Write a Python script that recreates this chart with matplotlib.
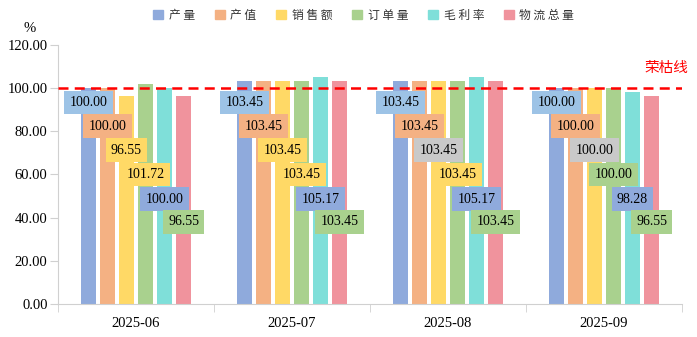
import numpy as np
import matplotlib
matplotlib.use("Agg")
from matplotlib import pyplot as plt
from matplotlib.patches import Patch

months = ["2025-06", "2025-07", "2025-08", "2025-09"]
series_names = ["产量", "产值", "销售额", "订单量", "毛利率", "物流总量"]
bar_colors = ["#8FAADC", "#F4B183", "#FFD966", "#A9D18E", "#7FDFD9", "#F0939D"]

# values per series (one list per series, one entry per month)
output_qty = [100.00, 103.45, 103.45, 100.00]
output_value = [100.00, 103.45, 103.45, 100.00]
sales = [96.55, 103.45, 103.45, 100.00]
orders = [101.72, 103.45, 103.45, 100.00]
gross_margin = [100.00, 105.17, 105.17, 98.28]
logistics = [96.55, 103.45, 103.45, 96.55]
values = [output_qty, output_value, sales, orders, gross_margin, logistics]

boom_line = 100
boom_label = "荣枯线"

# label box colours as they appear per month
label_colors = [
    ["#9DC3E6", "#F4B183", "#FFD966", "#FFD966", "#8FAADC", "#A9D18E"],
    ["#9DC3E6", "#F4B183", "#FFD966", "#FFD966", "#8FAADC", "#A9D18E"],
    ["#9DC3E6", "#F4B183", "#C9C9C9", "#FFD966", "#8FAADC", "#A9D18E"],
    ["#9DC3E6", "#F4B183", "#C9C9C9", "#A9D18E", "#8FAADC", "#A9D18E"],
]
label_levels = [93.4, 82.4, 71.3, 60.0, 48.6, 38.0]  # where the value boxes sit

serif = ["Liberation Serif", "DejaVu Serif"]
cjk = ["Noto Sans CJK SC", "DejaVu Sans"]

fig = plt.figure(figsize=(6.97, 3.37), dpi=100)
ax = fig.add_axes([0.0832, 0.0979, 0.8953, 0.7686])

x = np.arange(len(months))
width = 0.096
step = 0.122
for i, vals in enumerate(values):
    off = (i - 2.5) * step
    ax.bar(x + off, vals, width, color=bar_colors[i], zorder=2)
    for j, v in enumerate(vals):
        ax.text(x[j] + off, label_levels[i], "%.2f" % v, ha="center", va="center",
                fontsize=10, family=serif, zorder=4,
                bbox=dict(boxstyle="square,pad=0.38", fc=label_colors[j][i], ec="none"))

ax.axhline(boom_line, color="#FF0000", ls=(0, (4, 2.5)), lw=1.8, zorder=3)
fig.text(0.987, 0.798, boom_label, color="#FF0000", ha="right", va="center",
         fontsize=10.5, family=cjk)

ax.set_xlim(-0.5, len(months) - 0.5)
ax.set_ylim(0, 120)
ax.set_yticks(np.arange(0, 121, 20))
ax.set_yticklabels(["%.2f" % t for t in np.arange(0, 121, 20)], family=serif, fontsize=10.5)
ax.set_xticks(x)
ax.set_xticklabels(months, family=serif, fontsize=10.5)
ax.set_xticks(np.arange(-0.5, len(months)), minor=True)
ax.tick_params(axis="x", which="major", length=0, pad=9)
ax.tick_params(axis="x", which="minor", length=6, color="#D0D0D0")
ax.tick_params(axis="y", length=6, color="#D0D0D0", pad=1.5)
for s in ["top", "right"]:
    ax.spines[s].set_visible(False)
for s in ["left", "bottom"]:
    ax.spines[s].set_color("#D0D0D0")
fig.text(0.042, 0.915, "%", family=serif, fontsize=10.5, ha="center", va="center")

handles = [Patch(color=c) for c in bar_colors]
spaced = [" ".join(n) for n in series_names]
leg = fig.legend(handles, spaced, loc="center", bbox_to_anchor=(0.522, 0.955), ncol=6,
                 frameon=False, prop={"family": cjk, "size": 8.5}, handlelength=0.85,
                 handleheight=0.85, handletextpad=0.45, columnspacing=1.7)
for t in leg.get_texts():
    t.set_color("#333333")

fig.savefig("out.png", dpi=100)
